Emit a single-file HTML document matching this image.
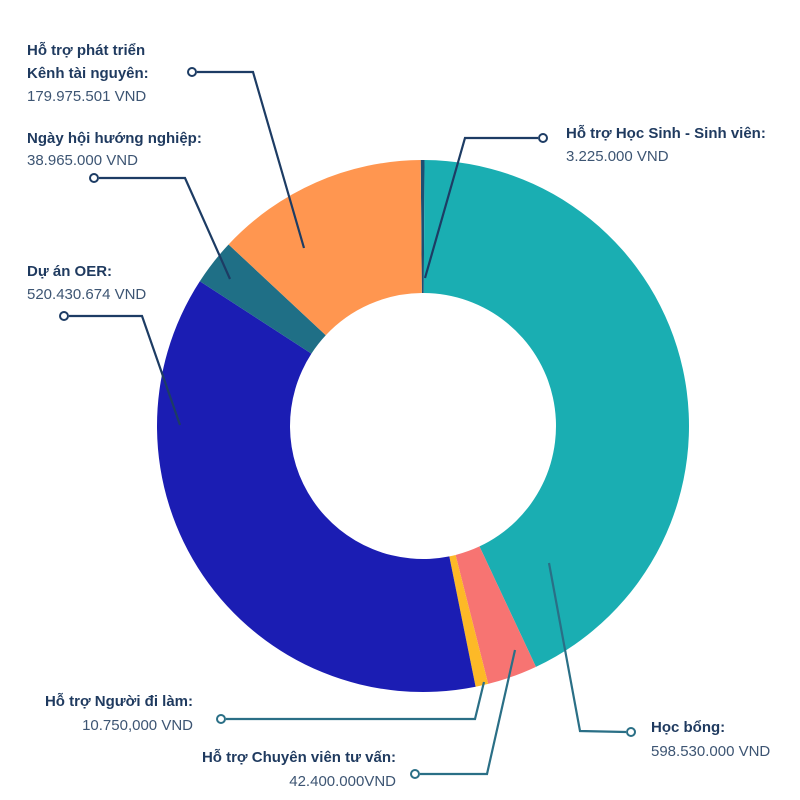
<!DOCTYPE html>
<html><head><meta charset="utf-8"><style>
html,body{margin:0;padding:0;background:#fff;width:800px;height:800px;overflow:hidden}
text{font-family:"Liberation Sans",sans-serif;font-size:15px;fill:#1f3a5f}
.b{font-weight:bold}
.v{fill:#3d5573}
</style></head><body>
<svg width="800" height="800" viewBox="0 0 800 800" xmlns="http://www.w3.org/2000/svg">
<g id="donut"></g>
<g fill="none" stroke-width="2.2">
<g stroke="#1d3c64">
<polyline points="197,72 253,72 304,248"/>
<polyline points="99,178 185,178 230,279"/>
<polyline points="69,316 142,316 180,425"/>
<polyline points="538,138 465,138 425,278"/>
</g>
<g stroke="#2a6f86">
<polyline points="226,719 475,719 484,682"/>
<polyline points="420,774 487,774 515,650"/>
<polyline points="626,732 580,731 549,563"/>
</g>
<g fill="#fff" stroke-width="2">
<circle cx="192" cy="72" r="4" stroke="#1d3c64"/>
<circle cx="94" cy="178" r="4" stroke="#1d3c64"/>
<circle cx="64" cy="316" r="4" stroke="#1d3c64"/>
<circle cx="543" cy="138" r="4" stroke="#1d3c64"/>
<circle cx="221" cy="719" r="4" stroke="#2a6f86"/>
<circle cx="415" cy="774" r="4" stroke="#2a6f86"/>
<circle cx="631" cy="732" r="4" stroke="#2a6f86"/>
</g>
</g>
<text class="b" x="27" y="55">Hỗ trợ phát triển</text>
<text class="b" x="27" y="78">Kênh tài nguyên:</text>
<text class="v" x="27" y="101">179.975.501 VND</text>
<text class="b" x="27" y="143">Ngày hội hướng nghiệp:</text>
<text class="v" x="27" y="165">38.965.000 VND</text>
<text class="b" x="27" y="276">Dự án OER:</text>
<text class="v" x="27" y="299">520.430.674 VND</text>
<text class="b" x="566" y="138">Hỗ trợ Học Sinh - Sinh viên:</text>
<text class="v" x="566" y="161">3.225.000 VND</text>
<text class="b" x="193" y="706" text-anchor="end">Hỗ trợ Người đi làm:</text>
<text class="v" x="193" y="730" text-anchor="end">10.750,000 VND</text>
<text class="b" x="396" y="762" text-anchor="end">Hỗ trợ Chuyên viên tư vấn:</text>
<text class="v" x="396" y="786" text-anchor="end">42.400.000VND</text>
<text class="b" x="651" y="732">Học bổng:</text>
<text class="v" x="651" y="756">598.530.000 VND</text>
</svg>
<script>
(function(){
var cx=423,cy=426,R=266,r=133;
var data=[[3225000,"#1d4f73"],[598530000,"#1aaeb2"],[42400000,"#f77472"],[10750000,"#fdb927"],[520430674,"#1b1db3"],[38965000,"#1f6f86"],[179975501,"#ff9650"]];
var tot=0;data.forEach(function(d){tot+=d[0]});
var a=-0.5*Math.PI/180,g=document.getElementById("donut"),h="";
function p(rad,ang){return [cx+rad*Math.sin(ang),cy-rad*Math.cos(ang)];}
data.forEach(function(d){
 var b=a+d[0]/tot*2*Math.PI,l=(b-a)>Math.PI?1:0;
 var p1=p(R,a),p2=p(R,b),p3=p(r,b),p4=p(r,a);
 h+='<path fill="'+d[1]+'" d="M'+p1+' A'+R+','+R+' 0 '+l+' 1 '+p2+' L'+p3+' A'+r+','+r+' 0 '+l+' 0 '+p4+'Z"/>';
 a=b;});
g.innerHTML=h;
})();
</script>
</body></html>
